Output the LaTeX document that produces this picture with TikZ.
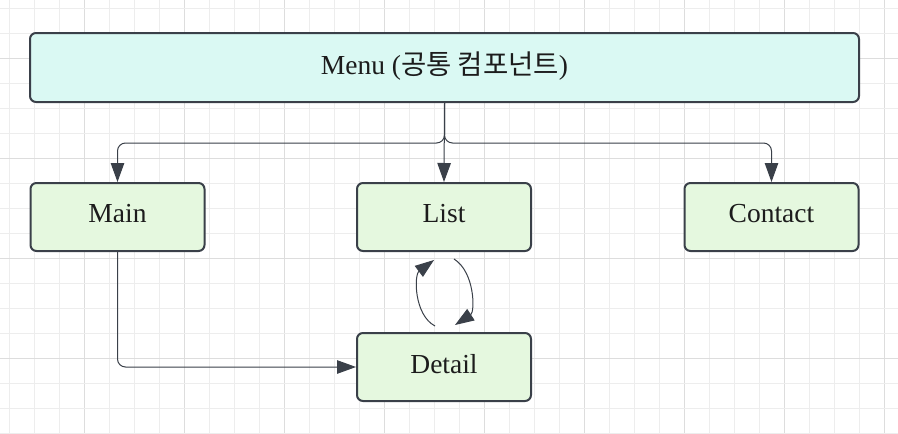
\documentclass[tikz,border=0pt]{standalone}
\usepackage{fontspec}
\setmainfont{Liberation Serif}
\newfontfamily\kr{Noto Sans CJK KR}
\usetikzlibrary{arrows.meta,calc}
\definecolor{gridlight}{HTML}{EDEDED}
\definecolor{griddark}{HTML}{DDDDDD}
\definecolor{edge}{HTML}{3A4049}
\definecolor{menufill}{HTML}{DAF9F3}
\definecolor{pagefill}{HTML}{E5F8DF}
\definecolor{txt}{HTML}{1C1C1C}
\tikzset{
  box/.style={draw=edge, line width=2pt, rounded corners=6pt, text=txt,
    font=\fontsize{27.5}{30}\selectfont, inner sep=0pt},
  menubox/.style={box, fill=menufill, minimum width=829pt, minimum height=69pt},
  pagebox/.style={box, fill=pagefill, minimum width=174pt, minimum height=68pt},
  lbl/.style={text=txt, font=\fontsize{27.5}{30}\selectfont, inner sep=0pt},
  arr/.style={draw=edge, line width=1pt, -{Triangle[length=19pt,width=13.5pt]}, rounded corners=8pt},
}
\begin{document}
\begin{tikzpicture}[x=1pt,y=-1pt]
\useasboundingbox (0,0) rectangle (898,434);
\fill[white] (0,0) rectangle (898,434);
\foreach \i in {0,...,35} {
  \pgfmathsetmacro{\xx}{9+25*\i}
  \pgfmathtruncatemacro{\m}{mod(\i,4)}
  \ifnum\m=3 \draw[griddark,line width=1pt] (\xx,0) -- (\xx,434);
  \else \draw[gridlight,line width=1pt] (\xx,0) -- (\xx,434); \fi
}
\foreach \j in {0,...,17} {
  \pgfmathsetmacro{\yy}{8+25*\j}
  \pgfmathtruncatemacro{\m}{mod(\j,4)}
  \ifnum\m=2 \draw[griddark,line width=1pt] (0,\yy) -- (898,\yy);
  \else \draw[gridlight,line width=1pt] (0,\yy) -- (898,\yy); \fi
}
\node[menubox] (menu) at (444.5,67.5) {};
\node[pagebox] (main) at (117.5,217) {};
\node[pagebox] (list) at (444,217) {};
\node[pagebox] (contact) at (771.5,217) {};
\node[pagebox] (detail) at (444,367) {};
\node[lbl] (menut) at ($(menu.center)+(0,-1.5)$) {Menu ({\kr\fontsize{27.5}{30}\selectfont 공통 컴포넌트})};
\node[lbl] (maint) at ($(main.center)+(0,-3)$) {Main};
\node[lbl] (listt) at ($(list.center)+(0,-3)$) {List};
\node[lbl] (contactt) at ($(contact.center)+(0,-3)$) {Contact};
\node[lbl] (detailt) at ($(detail.center)+(0,-3)$) {Detail};
\draw[arr] (menu.south) -- ++(0,40) -| (main.north);
\draw[arr] (menu.south) -- (list.north);
\draw[arr] (menu.south) -- ++(0,40) -| (contact.north);
\draw[arr] (main.south) |- (detail.west);
\coordinate (l1) at ($(detail.north)+(-9,-6)$);
\coordinate (l2) at ($(list.south)+(-10,8)$);
\coordinate (r1) at ($(list.south)+(10,7)$);
\coordinate (r2) at ($(detail.north)+(11,-7)$);
\draw[arr] (l1) .. controls (414,315) and (414,275) .. (l2);
\draw[arr] (r1) .. controls (475,272) and (475,312) .. (r2);
\end{tikzpicture}
\end{document}
